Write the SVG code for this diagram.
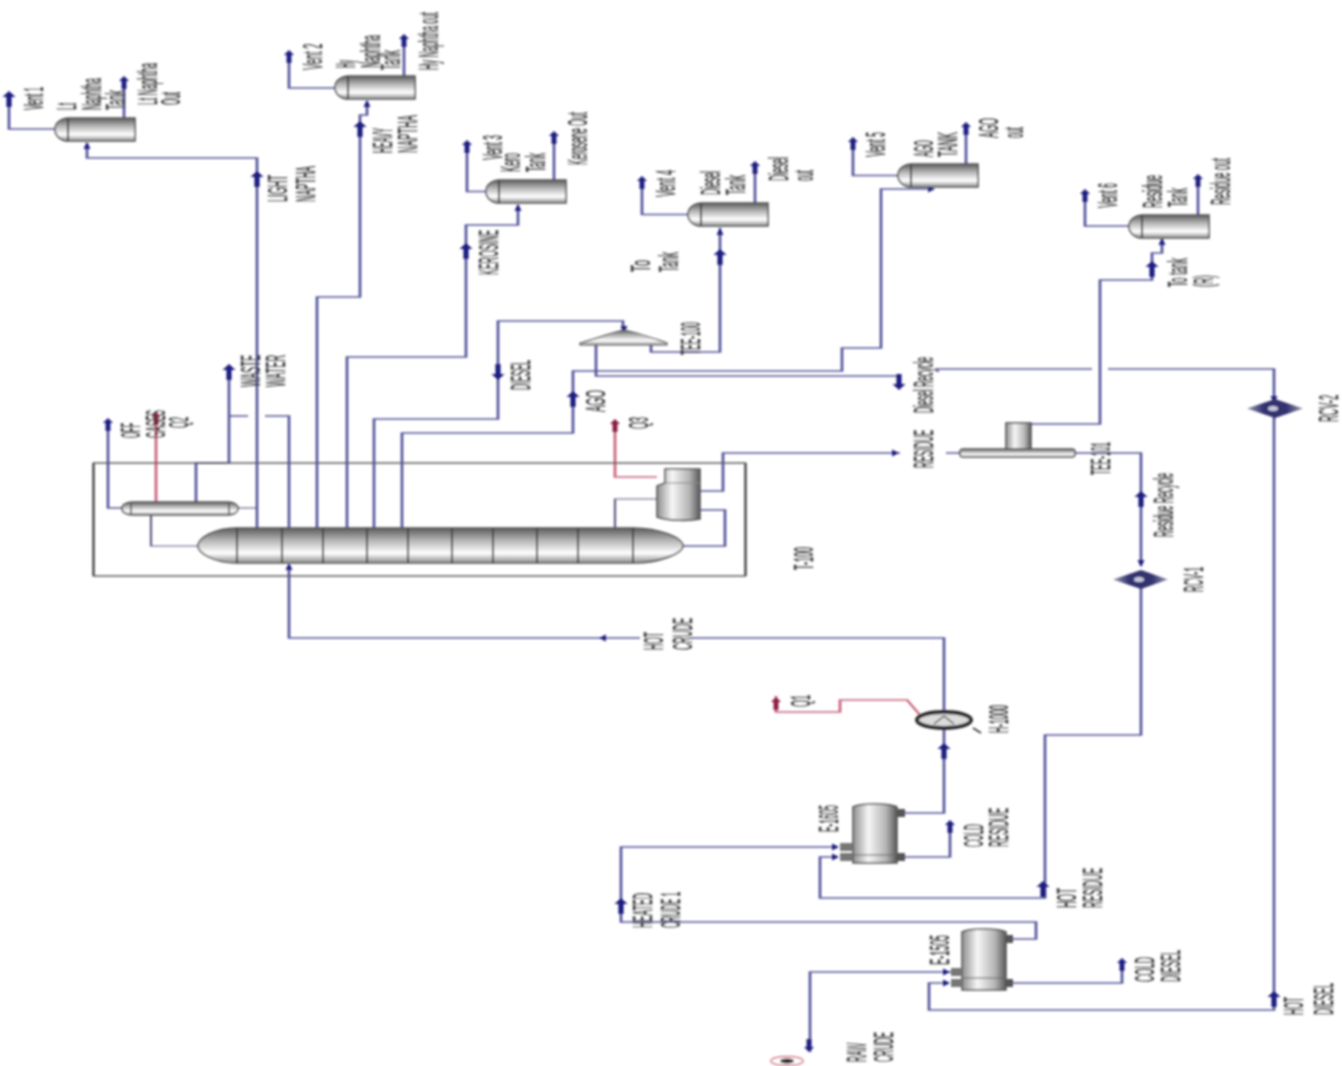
<svg xmlns="http://www.w3.org/2000/svg" xmlns:xlink="http://www.w3.org/1999/xlink" width="1342" height="1066" viewBox="0 0 1342 1066">
<style>
text{font-family:"Liberation Sans",Arial,sans-serif;font-size:27px;fill:#404040;stroke:#404040;stroke-width:.5px}
.c path{fill:none;stroke:#55559c;stroke-width:1.35}
.c path.r{stroke:#c9647c}
.c path.n{stroke:#5a5a86;stroke-width:1.1}
.a{fill:#1c1c80}.ar{fill:#8a1c40}
.w{fill:url(#hg);stroke:#555;stroke-width:1.6}
.v{fill:url(#vg);stroke:#555;stroke-width:1.6}
.sep{fill:none;stroke:#444;stroke-width:2}
.box{fill:none;stroke:#555;stroke-width:1.4}
.dia{fill:url(#dg);stroke:none}
</style>
<defs>
<filter id="soft" x="0" y="0" width="1342" height="1066" filterUnits="userSpaceOnUse"><feGaussianBlur stdDeviation="0.8"/></filter>
<linearGradient id="hg" x1="0" y1="0" x2="0" y2="1"><stop offset="0" stop-color="#5c5c5c"/><stop offset=".35" stop-color="#b4b4b4"/><stop offset=".72" stop-color="#fff"/><stop offset="1" stop-color="#8a8a8a"/></linearGradient>
<linearGradient id="vg" x1="0" y1="0" x2="1" y2="0"><stop offset="0" stop-color="#8e8e8e"/><stop offset=".35" stop-color="#f6f6f6"/><stop offset=".75" stop-color="#b4b4b4"/><stop offset="1" stop-color="#585858"/></linearGradient>
<linearGradient id="dg" x1="0" y1="0" x2="1" y2="0"><stop offset="0" stop-color="#9a9ab0"/><stop offset=".3" stop-color="#30306e"/><stop offset=".7" stop-color="#30306e"/><stop offset="1" stop-color="#9a9ab0"/></linearGradient>
<g id="tank"><path class="w" d="M14 0H80V23H14C5 23 0 17 0 11.5S5 0 14 0Z"/><path class="sep" d="M13 0V23"/></g>
<polygon id="au" points="0,-6 5,-1 2.4,-1 2.4,7 -2.4,7 -2.4,-1 -5,-1"/>
<polygon id="ab" points="0,-7 6.5,-1 2.6,-1 2.6,9 -2.6,9 -2.6,-1 -6.5,-1"/>
<polygon id="as" points="0,-4 3.5,3 -3.5,3"/>
</defs>
<rect width="1342" height="1066" fill="#fff"/>
<g filter="url(#soft)">
<g id="connectors" class="c">
<g transform="scale(2,1)">
<path d="M27.5 129H4.5V98"/>
<path d="M62 118V80"/>
<path d="M128.5 530V158H43.5V143"/>
<path d="M167.5 88H144.5V52"/>
<path d="M202 76V38"/>
<path d="M158.5 530V297H180V115H183.5V101"/>
<path d="M243 191.5H233.5V145"/>
<path d="M277 180V136"/>
<path d="M173.5 530V357H233V225H259V205"/>
<path d="M344 214.5H321V180"/>
<path d="M377.5 203V165"/>
<path d="M325.5 345V352H360V228"/>
<path d="M187 530V419H249V321H311.5V330"/>
<path d="M201 530V433H286.5V371H298"/>
<path d="M298 345V371H421V348H440.5V189H466.5"/>
<path d="M298 371V376H449.5"/>
<path d="M467.5 369H546M554 369H637V402"/>
<path d="M449 175.5H426.5V142"/>
<path d="M483 164V127"/>
<path d="M564.5 226H542.5V194"/>
<path d="M599 215V178"/>
<path d="M515.5 424H550V280H576V253H581V239"/>
<path d="M350 491H361.5V453H450M473 453H480"/>
<path d="M350 510H362.5V546H341.5"/>
<path d="M537.5 453H570.5V566"/>
<path d="M570.5 588V735H522.5V898H410V857H419"/>
<path d="M637 416V1010H464.5V983H474.5"/>
<path d="M472 712V638H346M320 638H144.5V565"/>
<path d="M452.5 813H472V730"/>
<path d="M452.5 857H475V826"/>
<path d="M506 939H518V922H310.5V847H419"/>
<path d="M475.5 972H405V1052"/>
<path d="M506 983H561V964"/>
<path d="M61 508H54V423"/>
<path class="r" d="M78 502V412"/>
<path d="M98 502V463H114.5V370"/>
<path d="M144.5 530V416H132.5M124 416H114.5"/>
<path class="n" d="M119 508H128.5"/>
<path class="n" d="M75.5 515V546H99"/>
<path class="r" d="M328.5 477H307.5V420"/>
<path class="n" d="M328.5 499H307.5V528"/>
<path class="r" d="M460 715L453.5 700H420V712H388V696"/>
</g>
<g id="flow-arrows">
<use xlink:href="#ab" class="a" transform="translate(9,98)"/>
<use xlink:href="#au" class="a" transform="translate(124,82)"/>
<use xlink:href="#ab" class="a" transform="translate(257,178)"/>
<use xlink:href="#as" class="a" transform="translate(87,146)"/>
<use xlink:href="#au" class="a" transform="translate(289,56)"/>
<use xlink:href="#au" class="a" transform="translate(404,40)"/>
<use xlink:href="#as" class="a" transform="translate(367,104)"/>
<use xlink:href="#ab" class="a" transform="translate(360,128)"/>
<use xlink:href="#au" class="a" transform="translate(467,146)"/>
<use xlink:href="#au" class="a" transform="translate(554,137)"/>
<use xlink:href="#as" class="a" transform="translate(518,208)"/>
<use xlink:href="#ab" class="a" transform="translate(466,250)"/>
<use xlink:href="#au" class="a" transform="translate(642,182)"/>
<use xlink:href="#au" class="a" transform="translate(755,167)"/>
<use xlink:href="#ab" class="a" transform="translate(720,256)"/>
<use xlink:href="#as" class="a" transform="translate(720,232)"/>
<use xlink:href="#au" class="a" transform="translate(853,143)"/>
<use xlink:href="#au" class="a" transform="translate(966,128)"/>
<use xlink:href="#au" class="a" transform="translate(1085,195)"/>
<use xlink:href="#au" class="a" transform="translate(1198,180)"/>
<use xlink:href="#ab" class="a" transform="translate(1152,268)"/>
<use xlink:href="#as" class="a" transform="translate(1162,242)"/>
<use xlink:href="#as" class="a" transform="translate(931,189) rotate(90)"/>
<use xlink:href="#au" class="a" transform="translate(108,424)"/>
<use xlink:href="#ab" class="a" transform="translate(229,371)"/>
<use xlink:href="#as" class="a" transform="translate(289,567)"/>
<use xlink:href="#ab" class="a" transform="translate(498,373) rotate(180)"/>
<use xlink:href="#ab" class="a" transform="translate(573,398)"/>
<use xlink:href="#as" class="a" transform="translate(624,329) rotate(180)"/>
<use xlink:href="#ab" class="a" transform="translate(899,383) rotate(180)"/>
<use xlink:href="#as" class="a" transform="translate(895,453) rotate(90)"/>
<use xlink:href="#ab" class="a" transform="translate(1141,498)"/>
<use xlink:href="#as" class="a" transform="translate(1141,563) rotate(180)"/>
<use xlink:href="#as" class="a" transform="translate(1274,399) rotate(180)"/>
<use xlink:href="#ab" class="a" transform="translate(944,750)"/>
<use xlink:href="#au" class="a" transform="translate(950,826)"/>
<use xlink:href="#ab" class="a" transform="translate(1043,888)"/>
<use xlink:href="#ab" class="a" transform="translate(621,905)"/>
<use xlink:href="#au" class="a" transform="translate(809,1046) rotate(180)"/>
<use xlink:href="#au" class="a" transform="translate(1122,964)"/>
<use xlink:href="#ab" class="a" transform="translate(1274,998)"/>
<use xlink:href="#as" class="a" transform="translate(835,847) rotate(90)"/>
<use xlink:href="#as" class="a" transform="translate(835,857) rotate(90)"/>
<use xlink:href="#as" class="a" transform="translate(946,972) rotate(90)"/>
<use xlink:href="#as" class="a" transform="translate(946,983) rotate(90)"/>
<use xlink:href="#as" class="a" transform="translate(603,638) rotate(-90)"/>
<use xlink:href="#au" class="ar" transform="translate(776,703)"/>
<use xlink:href="#au" class="ar" transform="translate(156,418)"/>
<use xlink:href="#au" class="ar" transform="translate(615,425)"/>
</g>
</g>

<g id="stream-labels">
<text transform="translate(287,202) rotate(-90)" textLength="27" lengthAdjust="spacingAndGlyphs">LIGHT</text>
<text transform="translate(315,202) rotate(-90)" textLength="36" lengthAdjust="spacingAndGlyphs">NAPTHA</text>
<text transform="translate(392,153) rotate(-90)" textLength="25" lengthAdjust="spacingAndGlyphs">HEAVY</text>
<text transform="translate(417,153) rotate(-90)" textLength="38" lengthAdjust="spacingAndGlyphs">NAPTHA</text>
<text transform="translate(498,275) rotate(-90)" textLength="45" lengthAdjust="spacingAndGlyphs">KEROSINE</text>
<text transform="translate(650,272) rotate(-90)" textLength="12" lengthAdjust="spacingAndGlyphs">To</text>
<text transform="translate(678,272) rotate(-90)" textLength="20" lengthAdjust="spacingAndGlyphs">Tank</text>
<text transform="translate(530,390) rotate(-90)" textLength="30" lengthAdjust="spacingAndGlyphs">DIESEL</text>
<text transform="translate(605,412) rotate(-90)" textLength="22" lengthAdjust="spacingAndGlyphs">AGO</text>
<text transform="translate(648,429) rotate(-90)" textLength="12" lengthAdjust="spacingAndGlyphs">Q3</text>
<text transform="translate(1187,287) rotate(-90)" textLength="29" lengthAdjust="spacingAndGlyphs">To tank</text>
<text transform="translate(1213,287) rotate(-90)" textLength="12" lengthAdjust="spacingAndGlyphs">(R)</text>
<text transform="translate(933,413) rotate(-90)" textLength="56" lengthAdjust="spacingAndGlyphs">Diesel Recycle</text>
<text transform="translate(933,468) rotate(-90)" textLength="38" lengthAdjust="spacingAndGlyphs">RESIDUE</text>
<text transform="translate(1173,537) rotate(-90)" textLength="64" lengthAdjust="spacingAndGlyphs">Residue Recycle</text>
<text transform="translate(140,438) rotate(-90)" textLength="15" lengthAdjust="spacingAndGlyphs">OFF</text>
<text transform="translate(165,438) rotate(-90)" textLength="28" lengthAdjust="spacingAndGlyphs">GASES</text>
<text transform="translate(188,428) rotate(-90)" textLength="11" lengthAdjust="spacingAndGlyphs">Q2</text>
<text transform="translate(260,387) rotate(-90)" textLength="32" lengthAdjust="spacingAndGlyphs">WASTE</text>
<text transform="translate(285,387) rotate(-90)" textLength="32" lengthAdjust="spacingAndGlyphs">WATER</text>
<text transform="translate(663,650) rotate(-90)" textLength="18" lengthAdjust="spacingAndGlyphs">HOT</text>
<text transform="translate(692,650) rotate(-90)" textLength="32" lengthAdjust="spacingAndGlyphs">CRUDE</text>
<text transform="translate(810,707) rotate(-90)" textLength="12" lengthAdjust="spacingAndGlyphs">Q1</text>
<text transform="translate(983,847) rotate(-90)" textLength="23" lengthAdjust="spacingAndGlyphs">COLD</text>
<text transform="translate(1008,847) rotate(-90)" textLength="39" lengthAdjust="spacingAndGlyphs">RESIDUE</text>
<text transform="translate(652,928) rotate(-90)" textLength="35" lengthAdjust="spacingAndGlyphs">HEATED</text>
<text transform="translate(680,928) rotate(-90)" textLength="36" lengthAdjust="spacingAndGlyphs">CRUDE 1</text>
<text transform="translate(1076,908) rotate(-90)" textLength="20" lengthAdjust="spacingAndGlyphs">HOT</text>
<text transform="translate(1102,908) rotate(-90)" textLength="40" lengthAdjust="spacingAndGlyphs">RESIDUE</text>
<text transform="translate(1154,982) rotate(-90)" textLength="25" lengthAdjust="spacingAndGlyphs">COLD</text>
<text transform="translate(1180,982) rotate(-90)" textLength="32" lengthAdjust="spacingAndGlyphs">DIESEL</text>
<text transform="translate(1303,1015) rotate(-90)" textLength="18" lengthAdjust="spacingAndGlyphs">HOT</text>
<text transform="translate(1333,1015) rotate(-90)" textLength="32" lengthAdjust="spacingAndGlyphs">DIESEL</text>
<text transform="translate(866,1062) rotate(-90)" textLength="19" lengthAdjust="spacingAndGlyphs">RAW</text>
<text transform="translate(893,1062) rotate(-90)" textLength="30" lengthAdjust="spacingAndGlyphs">CRUDE</text>
<text transform="translate(43,110) rotate(-90)" textLength="23" lengthAdjust="spacingAndGlyphs">Vent 1</text>
<text transform="translate(322,70) rotate(-90) scale(.346,1)">Vent 2</text>
<text transform="translate(502,160) rotate(-90)" textLength="25" lengthAdjust="spacingAndGlyphs">Vent 3</text>
<text transform="translate(675,197) rotate(-90)" textLength="27" lengthAdjust="spacingAndGlyphs">Vent 4</text>
<text transform="translate(885,157) rotate(-90)" textLength="25" lengthAdjust="spacingAndGlyphs">Vent 5</text>
<text transform="translate(1117,208) rotate(-90)" textLength="25" lengthAdjust="spacingAndGlyphs">Vent 6</text>
<text transform="translate(157,105) rotate(-90) scale(.318,1)">Lt Naphtha</text>
<text transform="translate(180,105) rotate(-90)" textLength="13" lengthAdjust="spacingAndGlyphs">Out</text>
<text transform="translate(438,70) rotate(-90) scale(.309,1)">Hy Naphtha out</text>
<text transform="translate(587,165) rotate(-90) scale(.318,1)">Kerosene Out</text>
<text transform="translate(788,181) rotate(-90)" textLength="24" lengthAdjust="spacingAndGlyphs">Diesel</text>
<text transform="translate(813,181) rotate(-90)" textLength="11" lengthAdjust="spacingAndGlyphs">out</text>
<text transform="translate(998,138) rotate(-90)" textLength="20" lengthAdjust="spacingAndGlyphs">AGO</text>
<text transform="translate(1023,138) rotate(-90)" textLength="11" lengthAdjust="spacingAndGlyphs">out</text>
<text transform="translate(1230,205) rotate(-90)" textLength="47" lengthAdjust="spacingAndGlyphs">Residue out</text>
</g>

<g id="lt-naphtha-tank"><use xlink:href="#tank" transform="translate(55,118)"/>
<text transform="translate(76,110) rotate(-90)" textLength="7" lengthAdjust="spacingAndGlyphs">Lt</text>
<text transform="translate(101,110) rotate(-90)" textLength="32" lengthAdjust="spacingAndGlyphs">Naphtha</text>
<text transform="translate(125,110) rotate(-90)" textLength="20" lengthAdjust="spacingAndGlyphs">Tank</text></g>
<g id="hy-naphtha-tank"><use xlink:href="#tank" transform="translate(335,76)"/>
<text transform="translate(355,68) rotate(-90)" textLength="8" lengthAdjust="spacingAndGlyphs">Hy</text>
<text transform="translate(380,68) rotate(-90) scale(.323,1)">Naphtha</text>
<text transform="translate(400,70) rotate(-90)" textLength="20" lengthAdjust="spacingAndGlyphs">Tank</text></g>
<g id="kero-tank"><use xlink:href="#tank" transform="translate(486,180)"/>
<text transform="translate(520,172) rotate(-90)" textLength="19" lengthAdjust="spacingAndGlyphs">Kero</text>
<text transform="translate(545,172) rotate(-90)" textLength="19" lengthAdjust="spacingAndGlyphs">Tank</text></g>
<g id="diesel-tank"><use xlink:href="#tank" transform="translate(688,203)"/>
<text transform="translate(720,195) rotate(-90)" textLength="24" lengthAdjust="spacingAndGlyphs">Diesel</text>
<text transform="translate(745,195) rotate(-90)" textLength="20" lengthAdjust="spacingAndGlyphs">Tank</text></g>
<g id="ago-tank"><use xlink:href="#tank" transform="translate(898,164)"/>
<text transform="translate(933,157) rotate(-90)" textLength="17" lengthAdjust="spacingAndGlyphs">AGO</text>
<text transform="translate(957,157) rotate(-90)" textLength="25" lengthAdjust="spacingAndGlyphs">TANK</text></g>
<g id="residue-tank"><use xlink:href="#tank" transform="translate(1129,215)"/>
<text transform="translate(1162,208) rotate(-90)" textLength="33" lengthAdjust="spacingAndGlyphs">Residue</text>
<text transform="translate(1187,207) rotate(-90)" textLength="19" lengthAdjust="spacingAndGlyphs">Tank</text></g>

<g id="T-100">
<rect class="box" x="93.5" y="463" width="652" height="113"/>
<path d="M93.5 463V576M745.5 463V576" fill="none" stroke="#555" stroke-width="2.6"/>
<path class="w" d="M236 528H633C660 528 683 538 683 546C683 553 660 563 633 563H236C215 563 198 553 198 546C198 538 215 528 236 528Z"/>
<path class="sep" d="M237 528V563M282 528V563M323 528V563M367 528V563M408 528V563M452 528V563M493 528V563M537 528V563M578 528V563M633 528V563"/>
<path class="w" d="M133 502H228C234 502 238 505 238 508.500S234 515 228 515H133C126 515 122 512 122 508.500S126 502 133 502Z"/>
<path d="M131 502V515M229 502V515" stroke="#555" stroke-width="1.6" fill="none"/>
<path class="v" d="M665 469H700V519C690 521 668 521 657 517V486L665 483Z"/>
<path d="M665 483H700" stroke="#888" stroke-width="1" fill="none"/>
<text transform="translate(813,570) rotate(-90)" textLength="23" lengthAdjust="spacingAndGlyphs">T-100</text>
</g>

<g id="TEE-100">
<path d="M580 343C600 338 612 332 624 330C636 332 652 338 667 343V345H580Z" fill="url(#hg)" stroke="#555" stroke-width="1.2"/>
<text transform="translate(700,355) rotate(-90)" textLength="33" lengthAdjust="spacingAndGlyphs">TEE-100</text>
</g>
<g id="TEE-101">
<rect class="v" x="1006" y="423" width="25" height="27"/>
<rect class="w" x="960" y="449" width="115" height="8" rx="3"/>
<text transform="translate(1110,475) rotate(-90)" textLength="33" lengthAdjust="spacingAndGlyphs">TEE-101</text>
</g>
<g id="RCV-2">
<path class="dia" d="M1247 408.500L1275 399L1303 408.500L1275 418Z"/>
<ellipse cx="1273" cy="408.500" rx="5" ry="2.500" fill="#c8c8e0"/>
<text transform="translate(1338,422) rotate(-90)" textLength="27" lengthAdjust="spacingAndGlyphs">RCV-2</text>
</g>
<g id="RCV-1">
<path class="dia" d="M1113 579.500L1141 570L1168 579.500L1141 589Z"/>
<ellipse cx="1139" cy="579.500" rx="5" ry="2.500" fill="#c8c8e0"/>
<text transform="translate(1203,592) rotate(-90)" textLength="25" lengthAdjust="spacingAndGlyphs">RCV-1</text>
</g>
<g id="H-1000">
<ellipse cx="944" cy="720" rx="27" ry="8" fill="#dcdcdc" stroke="#2a2a2a" stroke-width="4"/>
<path d="M934 724L944 716L954 724" fill="none" stroke="#555" stroke-width="1.500"/>
<path d="M973 728L981 733" stroke="#333" stroke-width="1.500"/>
<text transform="translate(1008,733) rotate(-90)" textLength="28" lengthAdjust="spacingAndGlyphs">H-1000</text>
</g>
<g id="E-1605">
<path class="v" d="M853 807C860 803 890 803 897 807V863H853Z"/>
<path d="M853 855H897" stroke="#666" stroke-width="1" fill="none"/>
<rect x="897" y="809" width="8" height="8" fill="#555"/><rect x="897" y="853" width="8" height="8" fill="#555"/>
<rect x="840" y="843" width="13" height="8" fill="#777"/><rect x="840" y="853" width="13" height="8" fill="#777"/>
<text transform="translate(838,832) rotate(-90)" textLength="27" lengthAdjust="spacingAndGlyphs">E-1605</text>
</g>
<g id="E-1505">
<path class="v" d="M962 932C969 928 999 928 1006 932V990H962Z"/>
<path d="M962 978H1006" stroke="#666" stroke-width="1" fill="none"/>
<rect x="1006" y="935" width="7" height="8" fill="#555"/><rect x="1006" y="979" width="7" height="8" fill="#555"/>
<rect x="951" y="968" width="11" height="8" fill="#777"/><rect x="951" y="979" width="11" height="8" fill="#777"/>
<text transform="translate(949,965) rotate(-90)" textLength="30" lengthAdjust="spacingAndGlyphs">E-1505</text>
</g>
<g id="raw-crude-source">
<ellipse cx="787" cy="1061" rx="16" ry="4.500" fill="#fff" stroke="#d87080" stroke-width="1.500"/>
<ellipse cx="787" cy="1061" rx="7" ry="2.500" fill="#222"/>
</g>
</g>
</svg>
